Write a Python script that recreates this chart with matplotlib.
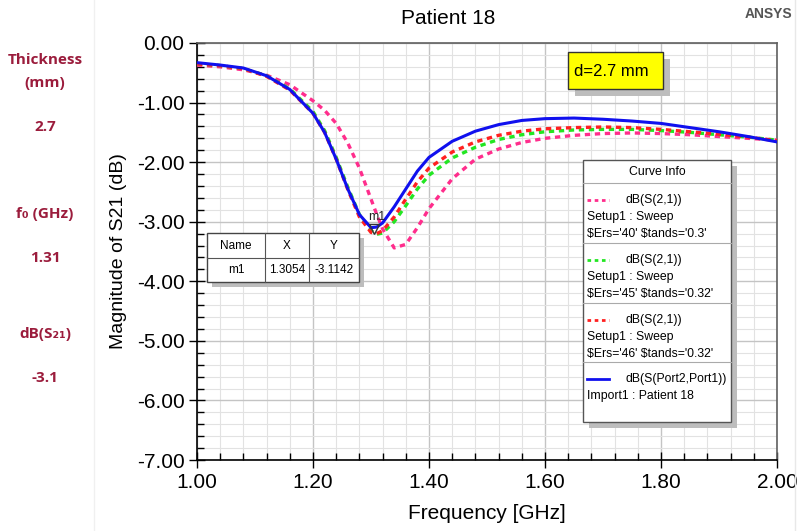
import matplotlib
matplotlib.use("Agg")
import matplotlib.pyplot as plt
from matplotlib.patches import Rectangle
from matplotlib.lines import Line2D
from matplotlib.ticker import MultipleLocator, FormatStrFormatter

# ---------------- data ----------------
freq = [1.00, 1.04, 1.08, 1.12, 1.16, 1.20, 1.22, 1.24, 1.26, 1.28, 1.30, 1.31,
        1.32, 1.34, 1.36, 1.38, 1.40, 1.44, 1.48, 1.52, 1.56, 1.60, 1.65, 1.70,
        1.75, 1.80, 1.85, 1.90, 1.95, 2.00]
s21_ers40 = [-0.37, -0.40, -0.45, -0.54, -0.70, -0.97, -1.13, -1.35, -1.68, -2.10, -2.62, -2.88,
             -3.12, -3.44, -3.38, -3.10, -2.78, -2.28, -1.95, -1.78, -1.67, -1.60, -1.55, -1.52,
             -1.51, -1.52, -1.54, -1.57, -1.60, -1.63]
s21_ers45 = [-0.35, -0.38, -0.43, -0.55, -0.77, -1.15, -1.47, -1.92, -2.42, -2.88, -3.15, -3.21,
             -3.19, -3.00, -2.73, -2.45, -2.22, -1.93, -1.75, -1.62, -1.54, -1.49, -1.46, -1.45,
             -1.45, -1.47, -1.50, -1.54, -1.58, -1.63]
s21_ers46 = [-0.35, -0.38, -0.43, -0.56, -0.79, -1.18, -1.50, -1.95, -2.46, -2.92, -3.18, -3.20,
             -3.15, -2.92, -2.62, -2.33, -2.10, -1.83, -1.66, -1.55, -1.48, -1.44, -1.42, -1.41,
             -1.42, -1.45, -1.49, -1.53, -1.58, -1.64]
s21_meas = [-0.33, -0.37, -0.42, -0.55, -0.78, -1.18, -1.50, -1.95, -2.45, -2.88, -3.10, -3.09,
            -3.02, -2.75, -2.45, -2.15, -1.92, -1.65, -1.48, -1.37, -1.30, -1.27, -1.26, -1.28,
            -1.31, -1.35, -1.42, -1.49, -1.57, -1.66]

marker_x = 1.3054
marker_y = -3.1142

series_colors = ["#ff2d8c", "#22e622", "#ff2020", "#1010ee"]
legend_titles = ["dB(S(2,1))", "dB(S(2,1))", "dB(S(2,1))", "dB(S(Port2,Port1))"]
legend_line2 = ["Setup1 : Sweep", "Setup1 : Sweep", "Setup1 : Sweep", "Import1 : Patient 18"]
legend_line3 = ["$Ers='40' $tands='0.3'", "$Ers='45' $tands='0.32'", "$Ers='46' $tands='0.32'", ""]

side_labels = ["Thickness", "(mm)", "2.7", "f\u2080 (GHz)", "1.31", "dB(S\u2082\u2081)", "-3.1"]
side_y = [60, 83, 127, 214, 258, 334, 378]

# ---------------- figure ----------------
W, H = 797, 531
fig = plt.figure(figsize=(W / 100, H / 100), dpi=100)
fig.patch.set_facecolor("white")

def fx(px):
    return px / W

def fy(py):
    return 1 - py / H

L, R, T, B = 197, 777, 43, 460
ax = fig.add_axes([fx(L), fy(B), fx(R) - fx(L), fy(T) - fy(B)])

FONT = "Liberation Sans"

series = [s21_ers40, s21_ers45, s21_ers46]
for vals, c in zip(series, series_colors[:3]):
    ax.plot(freq, vals, color=c, lw=2.4, linestyle=(0, (1.6, 1.4)), zorder=3)
ax.plot(freq, s21_meas, color=series_colors[3], lw=2.2, zorder=4)

ax.set_xlim(1.0, 2.0)
ax.set_ylim(-7.0, 0.0)
ax.xaxis.set_major_locator(MultipleLocator(0.2))
ax.xaxis.set_minor_locator(MultipleLocator(0.04))
ax.yaxis.set_major_locator(MultipleLocator(1.0))
ax.yaxis.set_minor_locator(MultipleLocator(0.2))
ax.xaxis.set_major_formatter(FormatStrFormatter("%.2f"))
ax.yaxis.set_major_formatter(FormatStrFormatter("%.2f"))
ax.grid(which="major", color="#c4c4c4", lw=1.0)
ax.grid(which="minor", color="#e2e2e2", lw=0.8)
ax.set_axisbelow(True)
ax.tick_params(which="major", direction="inout", length=12, width=1, labelsize=15, pad=3)
ax.tick_params(which="minor", direction="in", length=5, width=1)
for lab in ax.get_xticklabels() + ax.get_yticklabels():
    lab.set_fontfamily(FONT)
ax.spines["left"].set_color("black")
ax.spines["bottom"].set_color("black")
ax.spines["top"].set_color("#606060")
ax.spines["right"].set_color("#606060")
for s in ax.spines.values():
    s.set_linewidth(1.2)

ax.set_xlabel("Frequency [GHz]", fontsize=15, family=FONT, labelpad=9)
ax.set_ylabel("Magnitude of S21 (dB)", fontsize=14, family=FONT, labelpad=7)
fig.text(fx(448), fy(18), "Patient 18", ha="center", va="center", fontsize=15, family=FONT)

# marker m1
ax.plot([marker_x], [marker_y], marker="v", ms=7, mfc="none", mec="#333333", mew=1.0, zorder=6)
ax.annotate("m1", (marker_x, marker_y), xytext=(-4, 6), textcoords="offset points",
            fontsize=9, family=FONT, color="#222222", zorder=6)

def frame(x0, y0, x1, y1, shadow=6, fc="white", ec="#444444", lw=1.0, z=10):
    fig.add_artist(Rectangle((fx(x0 + shadow), fy(y1 + shadow)), fx(x1) - fx(x0), fy(y0) - fy(y1),
                             transform=fig.transFigure, fc="#bdbdbd", ec="none", zorder=z))
    fig.add_artist(Rectangle((fx(x0), fy(y1)), fx(x1) - fx(x0), fy(y0) - fy(y1),
                             transform=fig.transFigure, fc=fc, ec=ec, lw=lw, zorder=z + 1))

def hline(x0, x1, y, color="#999999", lw=0.8, z=12):
    fig.add_artist(Line2D([fx(x0), fx(x1)], [fy(y), fy(y)], transform=fig.transFigure,
                          color=color, lw=lw, zorder=z))

def vline(x, y0, y1, color="#999999", lw=0.8, z=12):
    fig.add_artist(Line2D([fx(x), fx(x)], [fy(y0), fy(y1)], transform=fig.transFigure,
                          color=color, lw=lw, zorder=z))

# marker table
frame(207, 233, 359, 282, shadow=5)
hline(207, 359, 258, color="#555555")
vline(265, 233, 282, color="#555555")
vline(309, 233, 282, color="#555555")
for txt, cx in zip(["Name", "X", "Y"], [236, 287, 334]):
    fig.text(fx(cx), fy(246), txt, ha="center", va="center", fontsize=8.5, family=FONT, zorder=13)
for txt, cx in zip(["m1", f"{marker_x:.4f}", f"{marker_y:.4f}"], [236, 287, 334]):
    fig.text(fx(cx), fy(270), txt, ha="center", va="center", fontsize=8.5, family=FONT, zorder=13)

# yellow annotation
frame(568, 52, 663, 89, shadow=7, fc="#ffff00", ec="#333333")
fig.text(fx(574), fy(71), "d=2.7 mm", ha="left", va="center", fontsize=12, family=FONT, zorder=13)

# curve info legend
lx0, lx1 = 583, 731
frame(lx0, 160, lx1, 422, shadow=6, ec="#555555")
fig.text(fx((lx0 + lx1) / 2), fy(172), "Curve Info", ha="center", va="center",
         fontsize=8.8, family=FONT, zorder=13)
sec_tops = [183, 243, 303, 362]
for i, top in enumerate(sec_tops):
    hline(lx0, lx1, top, color="#aaaaaa")
    ly = top + 17
    ls = "-" if i == 3 else (0, (1.3, 1.3))
    fig.add_artist(Line2D([fx(587), fx(609)], [fy(ly), fy(ly)], transform=fig.transFigure,
                          color=series_colors[i], lw=2.0, linestyle=ls, zorder=13))
    fig.text(fx(625), fy(ly), legend_titles[i], ha="left", va="center", fontsize=8.8,
             family=FONT, zorder=13)
    fig.text(fx(587), fy(ly + 17), legend_line2[i], ha="left", va="center", fontsize=8.8,
             family=FONT, zorder=13)
    if legend_line3[i]:
        fig.text(fx(587), fy(ly + 34), legend_line3[i], ha="left", va="center", fontsize=8.8,
                 family=FONT, zorder=13, parse_math=False)

# ANSYS logo text
fig.text(fx(792), fy(14), "ANSYS", ha="right", va="center", fontsize=10, fontweight="bold",
         family=FONT, color="#555555")

# faint panel separators
fig.add_artist(Line2D([fx(94), fx(94)], [0, 1], transform=fig.transFigure, color="#f0f0f0", lw=1))
fig.add_artist(Line2D([fx(795), fx(795)], [0, 1], transform=fig.transFigure, color="#e8e8e8", lw=1))

# left side annotations
for txt, y in zip(side_labels, side_y):
    fig.text(fx(45), fy(y), txt, ha="center", va="center", fontsize=11, fontweight="bold",
             family=["Open Sans", "DejaVu Sans"], color="#9b1c3c")

fig.savefig("out.png", dpi=100)
